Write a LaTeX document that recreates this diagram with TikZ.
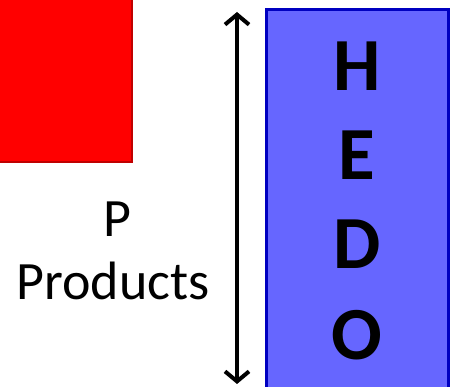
\documentclass[tikz,border=0pt]{standalone}
\usepackage{fontspec}
\setmainfont{Carlito}
\usetikzlibrary{arrows.meta}
\definecolor{redfill}{HTML}{FF0000}
\definecolor{redline}{HTML}{C00000}
\definecolor{bluefill}{HTML}{6666FF}
\definecolor{blueline}{HTML}{0000C0}
\tikzset{
  letter/.style={font=\fontsize{75}{75}\selectfont\bfseries, inner sep=0pt, anchor=base},
  lbl/.style={font=\fontsize{54}{54}\selectfont, inner sep=0pt, anchor=base},
  barb/.style={Straight Barb[length=10pt,width=24pt,line width=4pt]},
}
\begin{document}
\begin{tikzpicture}[x=1pt,y=-1pt]
\useasboundingbox (0,0) rectangle (450,387);
\clip (0,0) rectangle (450,387);
\fill[white] (0,0) rectangle (450,387);
\draw[redline, fill=redfill, line width=2.5pt] (-10,-10) rectangle (132,162);
\draw[blueline, fill=bluefill, line width=3pt] (266.5,9.5) rectangle (448,400);
\coordinate (top) at (237,12);
\coordinate (bot) at (237,384);
\draw[line width=4.5pt, {Straight Barb[length=10pt,width=24pt,line width=4pt]}-{Straight Barb[length=10pt,width=24pt,line width=4pt]}] (top) -- (bot);
\node[letter] (h) at (357,91) {H};
\node[letter] (e) at (357,180) {E};
\node[letter] (d) at (357,269) {D};
\node[letter] (o) at (357,360) {O};
\node[lbl] (p) at (117,237) {P};
\node[lbl] (prod) at (113,300) {Products};
\end{tikzpicture}
\end{document}
